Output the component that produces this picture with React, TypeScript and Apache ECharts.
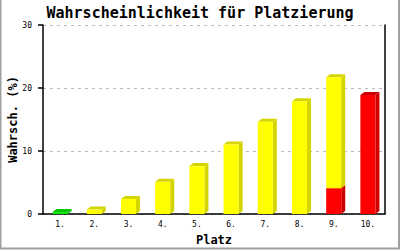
import React, { useEffect, useRef } from "react";
import * as echarts from "echarts";

const categories = ["1.", "2.", "3.", "4.", "5.", "6.", "7.", "8.", "9.", "10."];
const greenValues = [0.3, 0, 0, 0, 0, 0, 0, 0, 0, 0];
const redValues = [0, 0, 0, 0, 0, 0, 0, 0, 4.1, 18.9];
const yellowValues = [0, 0.7, 2.4, 5.1, 7.6, 11.05, 14.65, 17.9, 17.6, 0];
const yTicks = [0, 10, 20, 30];

const MONO = "'DejaVu Sans Mono', monospace";

export default function App() {
  const ref = useRef<HTMLDivElement>(null);
  useEffect(() => {
    const chart = echarts.init(ref.current!, null, { renderer: "svg" });

    const stacks = [
      { name: "green", values: greenValues, front: "#00e600", side: "#00c400" },
      { name: "red", values: redValues, front: "#ff0000", side: "#cc0000" },
      { name: "yellow", values: yellowValues, front: "#ffff00", side: "#d4d400" },
    ];
    const base = categories.map(() => 0);
    const series: any[] = stacks.map((s) => {
      const data = s.values
        .map((v, i) => {
          const b = base[i];
          base[i] += v;
          return v > 0 ? [i, b, b + v] : null;
        })
        .filter((d) => d !== null);
      return {
        type: "custom",
        name: s.name,
        data,
        encode: { x: 0, y: [1, 2] },
        renderItem: (params: any, api: any) => {
          const idx = api.value(0);
          const b = api.value(1);
          const t = api.value(2);
          const pTop = api.coord([idx, t]);
          const pBase = api.coord([idx, b]);
          const w = api.size([1, 0])[0] * 0.44;
          const x0 = pTop[0] - w / 2;
          const x1 = pTop[0] + w / 2;
          const yT = pTop[1];
          const yB = pBase[1];
          const dx = 4;
          const dy = 3;
          return {
            type: "group",
            children: [
              {
                type: "polygon",
                shape: { points: [[x1, yT], [x1 + dx, yT - dy], [x1 + dx, yB - dy], [x1, yB]] },
                style: { fill: s.side },
              },
              {
                type: "polygon",
                shape: { points: [[x0, yT], [x0 + dx, yT - dy], [x1 + dx, yT - dy], [x1, yT]] },
                style: { fill: s.side },
              },
              {
                type: "rect",
                shape: { x: x0, y: yT, width: w, height: yB - yT },
                style: { fill: s.front },
              },
            ],
          };
        },
      };
    });

    chart.setOption({
      animation: false,
      title: {
        text: "Wahrscheinlichkeit für Platzierung",
        left: "center",
        top: 0,
        textStyle: { fontFamily: MONO, fontWeight: "bold", fontSize: 15, color: "#000" },
      },
      grid: { left: 43, right: 15, top: 25, bottom: 36, outerBoundsMode: "none", containLabel: false },
      xAxis: {
        type: "category",
        data: categories,
        name: "Platz",
        nameLocation: "middle",
        nameGap: 20,
        nameMoveOverlap: false,
        nameTextStyle: { fontFamily: MONO, fontWeight: "bold", fontSize: 12, color: "#000" },
        axisLine: { lineStyle: { color: "#000", width: 1.5 } },
        axisTick: { show: false },
        axisLabel: { fontFamily: MONO, fontSize: 8, color: "#000", margin: 6 },
      },
      yAxis: [
        {
          type: "value",
          min: 0,
          max: 30,
          interval: 10,
          name: "Wahrsch. (%)",
          nameLocation: "middle",
          nameGap: 24,
          nameMoveOverlap: false,
          nameTextStyle: { fontFamily: MONO, fontWeight: "bold", fontSize: 12, color: "#000" },
          axisLine: { show: true, lineStyle: { color: "#000", width: 1.5 } },
          axisTick: { show: true, length: 5, lineStyle: { color: "#000", width: 1.5 } },
          axisLabel: {
            fontFamily: MONO,
            fontSize: 8,
            color: "#000",
            margin: 11,
            customValues: yTicks,
          },
          splitLine: { show: true, lineStyle: { color: "#bbbbbb", type: [3, 4], width: 1 } },
        },
        {
          type: "value",
          min: 0,
          max: 30,
          interval: 10,
          position: "right",
          axisLine: { show: true, lineStyle: { color: "#000", width: 1.5 } },
          axisTick: { show: false },
          axisLabel: { show: false },
          splitLine: { show: false },
        },
      ],
      graphic: [
        { type: "line", shape: { x1: 0.5, y1: 0, x2: 0.5, y2: 249 }, style: { stroke: "#a0a0a0", lineWidth: 2 } },
        { type: "line", shape: { x1: 399, y1: 0, x2: 399, y2: 249 }, style: { stroke: "#a0a0a0", lineWidth: 2 } },
        { type: "line", shape: { x1: 0, y1: 248.5, x2: 400, y2: 248.5 }, style: { stroke: "#a0a0a0", lineWidth: 2 } },
      ],
      series,
    });
    return () => chart.dispose();
  }, []);
  return <div ref={ref} style={{ width: 400, height: 250, position: "absolute", left: 0, top: 0 }} />;
}
